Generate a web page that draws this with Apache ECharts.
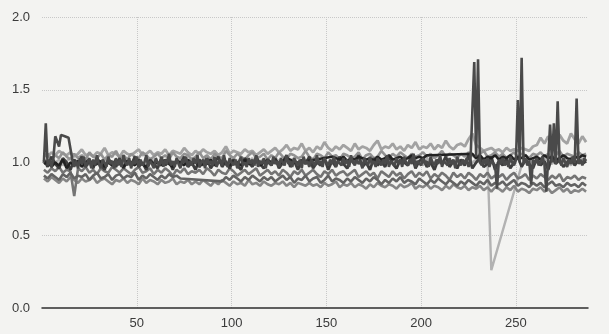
<!DOCTYPE html>
<html>
<head>
<meta charset="utf-8">
<title>chart</title>
<script src="https://cdn.jsdelivr.net/npm/echarts/dist/echarts.min.js"></script>
<style>
  html, body {margin:0; padding:0; background:#f3f3f1;}
  #main {width:609px; height:334px;}
</style>
</head>
<body>
<div id="main"></div>
<script type="text/javascript">
// x ticks / y ticks
var xTicks = [50, 100, 150, 200, 250];
var yTicks = [0.0, 0.5, 1.0, 1.5, 2.0];

// series S: one value per x (x = 1..287), dark, carries the spikes
var sSpike = [
  1.00,1.27,0.98,1.02,0.97,1.03,1.18,1.19,1.11,1.19,
  1.18,1.18,1.18,1.17,1.17,1.02,0.97,1.01,0.96,1.03,
  0.99,1.04,0.97,1.00,1.03,0.96,1.02,0.98,1.05,0.99,
  0.96,1.02,1.00,0.97,1.04,0.99,1.01,0.96,1.03,0.98,
  1.02,0.97,1.05,1.00,0.98,1.03,0.96,1.01,0.99,1.04,
  0.97,1.02,0.98,1.00,1.05,0.97,1.01,0.99,0.96,1.03,
  1.00,0.98,1.04,0.97,1.02,0.99,1.06,0.98,1.01,0.97,
  1.03,0.99,0.96,1.02,1.00,1.04,0.97,1.01,0.98,1.03,
  0.99,1.05,0.97,1.00,1.02,0.96,1.03,0.99,1.01,0.98,
  1.04,0.97,1.00,1.02,0.98,1.05,0.99,0.97,1.03,1.00,
  0.98,1.02,0.96,1.01,1.04,0.98,1.00,0.97,1.03,0.99,
  1.02,0.98,1.05,0.97,1.01,0.99,1.03,0.96,1.02,1.00,
  0.98,1.04,0.99,1.01,0.97,1.03,1.00,0.98,1.05,0.99,
  1.01,0.97,1.03,1.00,0.98,1.02,0.96,1.04,0.99,1.01,
  0.97,1.02,1.00,0.98,1.05,0.99,1.01,0.97,1.03,1.00,
  0.98,1.02,0.99,1.04,0.97,1.01,1.00,0.98,1.03,0.99,
  1.02,0.97,1.05,1.00,0.98,1.02,0.99,1.01,0.96,1.03,
  1.00,0.98,1.04,0.99,1.01,0.97,1.03,1.00,0.98,1.02,
  0.99,1.05,0.97,1.01,1.00,0.98,1.03,0.99,1.02,0.97,
  1.04,1.00,0.98,1.02,0.99,1.06,0.97,1.01,1.00,0.98,
  1.03,0.99,1.01,0.97,1.04,1.00,0.98,1.02,0.99,1.05,
  0.97,1.01,1.00,0.98,1.03,0.99,1.02,0.96,1.04,1.00,
  0.98,1.02,0.99,1.03,0.97,1.01,1.00,1.69,1.04,1.71,
  1.00,0.98,1.02,0.99,1.03,0.97,1.01,1.00,0.98,0.82,
  1.02,0.99,1.03,0.98,1.01,0.97,1.04,1.00,0.98,1.02,
  1.43,1.01,1.72,0.99,1.03,0.98,1.01,0.85,1.02,0.99,
  1.03,0.98,1.00,1.04,0.99,0.80,1.02,1.26,1.00,1.27,
  0.99,1.42,1.01,0.98,1.03,1.00,0.97,1.02,0.99,1.04,
  1.00,1.44,0.99,1.02,0.98,1.03,1.01
];

// the other series: one value every 2 x (x = 1, 3, ..., 287)
var sTop = [
  1.06,1.04,1.07,1.05,1.08,1.06,1.05,1.07,1.04,1.06,
  1.09,1.05,1.06,1.04,1.07,1.06,1.10,1.05,1.07,1.06,
  1.04,1.08,1.06,1.05,1.07,1.09,1.05,1.06,1.08,1.05,
  1.07,1.06,1.09,1.05,1.08,1.07,1.06,1.10,1.07,1.05,
  1.08,1.06,1.09,1.07,1.06,1.08,1.05,1.07,1.11,1.06,
  1.08,1.07,1.06,1.09,1.07,1.08,1.05,1.07,1.09,1.06,
  1.08,1.10,1.07,1.09,1.12,1.08,1.10,1.09,1.13,1.08,
  1.10,1.07,1.11,1.09,1.14,1.10,1.08,1.11,1.09,1.12,
  1.10,1.08,1.13,1.09,1.11,1.10,1.08,1.12,1.15,1.09,
  1.11,1.10,1.13,1.09,1.11,1.08,1.12,1.10,1.14,1.09,
  1.11,1.10,1.13,1.09,1.12,1.10,1.15,1.11,1.09,1.12,
  1.13,1.11,1.16,1.20,1.12,1.10,1.08,1.09,1.10,1.08,
  1.09,1.07,1.10,1.08,1.09,1.08,1.10,1.09,1.08,1.11,
  1.12,1.17,1.13,1.18,1.14,1.12,1.19,1.15,1.13,1.20,
  1.16,1.13,1.18,1.14
];

var sDip = [
  1.01,0.99,1.03,1.00,1.02,0.98,1.01,1.03,0.99,1.02,
  1.00,1.03,0.98,1.01,1.02,0.99,1.03,1.00,1.01,0.98,
  1.02,1.00,1.03,0.99,1.01,1.02,0.98,1.00,1.03,1.01,
  0.99,1.02,1.00,1.03,0.98,1.01,1.02,1.00,0.99,1.03,
  1.01,0.98,1.02,1.00,1.03,0.99,1.01,1.02,1.00,0.98,
  1.03,1.01,0.99,1.02,1.00,1.03,0.98,1.01,1.02,0.99,
  1.00,1.03,1.01,0.98,1.02,1.00,1.03,0.99,1.01,1.02,
  0.98,1.01,1.03,1.00,1.02,0.99,1.01,1.03,1.00,0.98,
  1.02,1.00,1.03,1.01,0.99,1.02,1.00,1.03,0.98,1.01,
  1.03,0.99,1.01,1.02,1.00,1.03,0.99,1.01,1.02,1.00,
  0.98,1.03,1.01,1.00,1.02,0.99,1.03,1.01,1.00,1.02,
  1.01,0.99,1.03,1.00,1.02,1.01,1.00,1.01,0.26,null,
  null,null,null,null,null,null,0.98,1.01,1.03,0.99,
  1.02,1.00,1.03,1.01,0.99,1.02,1.00,1.03,1.01,0.98,
  1.02,1.00,1.03,1.01
];

var sLight = [
  1.04,1.06,1.02,1.05,1.03,1.07,1.04,1.02,1.06,1.03,
  1.05,1.02,1.07,1.04,1.03,1.06,1.02,1.05,1.04,1.08,
  1.03,1.05,1.02,1.06,1.04,1.03,1.07,1.05,1.02,1.04,
  1.06,1.03,1.05,1.02,1.07,1.04,1.03,1.06,1.05,1.02,
  1.04,1.07,1.03,1.05,1.02,1.06,1.04,1.03,1.08,1.05,
  1.03,1.06,1.04,1.02,1.05,1.07,1.03,1.04,1.06,1.02,
  1.05,1.03,1.07,1.04,1.02,1.06,1.05,1.03,1.04,1.08,
  1.04,1.02,1.06,1.05,1.03,1.07,1.04,1.05,1.02,1.06,
  1.05,1.03,1.04,1.07,1.02,1.05,1.06,1.03,1.04,1.08,
  1.05,1.03,1.06,1.04,1.07,1.05,1.03,1.06,1.04,1.05,
  1.07,1.04,1.06,1.03,1.05,1.08,1.04,1.06,1.05,1.03,
  1.06,1.04,1.07,1.05,1.03,1.06,1.08,1.04,1.05,1.07,
  1.04,1.06,1.03,1.05,1.07,1.04,1.06,1.05,1.03,1.06,
  1.05,1.07,1.04,1.06,1.03,1.05,1.08,1.04,1.06,1.05,
  1.04,1.07,1.05,1.06
];

var sDark = [
  1.02,0.97,1.04,0.99,0.96,1.03,1.00,0.95,1.02,0.98,
  1.04,0.97,1.01,0.96,1.03,0.99,0.95,1.02,1.00,0.97,
  1.03,0.96,1.01,0.98,1.04,0.97,1.00,0.95,1.02,0.99,
  0.96,1.03,0.98,1.01,0.95,1.02,0.99,1.04,0.97,1.00,
  0.95,1.02,0.98,1.03,0.96,1.00,1.04,0.97,1.01,0.96,
  1.02,0.98,0.95,1.03,1.00,0.97,1.04,0.99,0.96,1.01,
  0.98,1.03,0.96,1.00,1.05,0.97,1.01,0.95,1.02,0.99,
  1.04,0.96,1.00,0.98,1.03,0.95,1.01,0.97,1.04,0.99,
  0.96,1.02,0.99,1.05,0.97,1.00,0.95,1.03,0.98,1.01,
  0.97,1.04,0.99,0.96,1.02,1.00,0.98,1.05,0.96,1.01,
  1.03,0.97,1.00,0.95,1.02,0.99,1.04,0.97,1.01,0.96,
  1.02,0.98,1.05,0.96,1.00,1.03,0.97,0.99,1.04,0.95,
  1.01,0.98,1.03,0.96,1.00,1.04,0.97,1.02,0.99,0.96,
  1.03,0.98,1.01,0.95,1.04,0.99,1.02,0.97,1.00,1.03,
  0.98,1.02,0.99,1.01
];

var sBlack = [
  0.99,1.01,0.97,1.00,0.98,1.02,0.96,1.00,0.99,1.01,
  0.97,1.00,1.02,0.98,0.99,1.01,0.97,1.00,0.98,1.02,
  0.99,0.97,1.01,1.00,0.98,1.02,0.99,0.97,1.01,0.99,
  1.00,0.98,1.02,0.99,0.97,1.01,1.00,0.98,1.02,0.99,
  1.01,0.97,1.00,0.99,1.02,0.98,1.00,1.01,0.99,0.98,
  1.01,1.00,0.98,1.02,0.99,1.00,1.01,0.98,1.00,1.02,
  1.00,1.02,0.99,1.01,1.03,1.02,1.00,1.00,null,null,
  null,null,null,null,null,null,1.04,1.03,1.02,1.04,
  1.01,1.03,1.02,1.04,1.03,1.02,1.03,1.01,1.04,1.02,
  1.03,1.05,1.02,1.03,1.04,1.02,1.03,1.05,1.03,1.04,
  1.03,1.05,1.05,null,null,null,null,null,null,null,
  null,null,null,1.06,1.03,1.05,1.02,1.04,1.03,1.05,
  1.02,1.04,1.03,1.05,1.02,1.04,1.03,1.05,1.02,1.03,
  1.04,1.02,1.05,1.03,1.04,1.02,1.03,1.05,1.03,1.02,
  1.04,1.03,1.05,1.04
];

var sMid = [
  0.95,0.93,0.96,0.94,0.97,0.93,0.95,0.94,0.77,0.96,
  0.94,0.97,0.93,0.95,0.92,0.96,0.94,0.93,0.97,0.95,
  0.93,0.96,0.94,0.92,0.95,0.97,0.93,0.94,0.96,0.92,
  0.95,0.93,0.96,0.94,0.91,0.95,0.93,0.96,0.92,0.94,
  0.93,0.95,0.92,0.96,0.94,0.91,0.95,0.93,0.92,0.96,
  0.94,0.91,0.93,0.95,0.92,0.94,0.96,0.91,0.93,0.95,
  0.92,0.94,0.91,0.95,0.93,0.90,0.94,0.92,0.95,0.91,
  0.93,0.95,0.92,0.90,0.94,0.92,0.95,0.91,0.93,0.94,
  0.91,0.93,0.95,0.90,0.92,0.94,0.91,0.93,0.89,0.94,
  0.92,0.90,0.94,0.91,0.93,0.89,0.92,0.94,0.90,0.93,
  0.91,0.94,0.89,0.92,0.90,0.93,0.91,0.88,0.93,0.90,
  0.92,0.89,0.93,0.91,0.88,0.92,0.90,0.93,0.89,0.91,
  0.90,0.92,0.88,0.91,0.93,0.89,0.90,0.92,0.88,0.91,
  0.89,0.92,0.90,0.88,0.91,0.89,0.92,0.87,0.90,0.89,
  0.91,0.88,0.90,0.89
];

var sLow = [
  0.91,0.89,0.92,0.90,0.88,0.92,0.90,0.93,0.89,0.91,
  0.90,0.92,0.88,0.91,0.93,0.89,0.90,0.92,0.88,0.91,
  0.92,0.89,0.91,0.90,0.93,0.88,0.91,0.89,0.92,0.90,
  0.88,0.91,0.89,0.92,0.90,0.91,0.89,null,null,null,
  null,null,null,null,null,null,null,0.87,0.90,0.88,
  0.91,0.89,0.87,0.90,0.88,0.91,0.89,0.87,0.90,0.88,
  0.90,0.87,0.89,0.91,0.88,0.90,0.86,0.89,0.88,0.91,
  0.87,0.89,0.90,0.86,0.88,0.91,0.87,0.89,0.88,0.86,
  0.89,0.87,0.90,0.88,0.86,0.89,0.87,0.90,0.88,0.85,
  0.88,0.86,0.89,0.87,0.90,0.86,0.88,0.87,0.85,0.89,
  0.87,0.85,0.88,0.86,0.89,0.87,0.85,0.88,0.86,0.84,
  0.87,0.85,0.88,0.86,0.84,0.87,0.85,0.88,0.84,0.86,
  0.85,0.87,0.84,0.86,0.88,0.84,0.86,0.85,0.83,0.86,
  0.84,0.86,0.83,0.85,0.87,0.84,0.85,0.83,0.86,0.84,
  0.85,0.83,0.86,0.84
];

var sBottom = [
  0.89,0.87,0.90,0.88,0.86,0.89,0.87,0.90,0.88,0.86,
  0.89,0.87,0.88,0.90,0.86,0.88,0.89,0.87,0.85,0.88,
  0.87,0.89,0.86,0.88,0.87,0.85,0.89,0.86,0.88,0.87,
  0.85,0.88,0.86,0.87,0.89,0.85,0.87,0.86,0.88,0.85,
  0.87,0.85,0.88,0.86,0.84,0.87,0.85,0.88,0.86,0.84,
  0.87,0.85,0.86,0.84,0.88,0.85,0.86,0.84,0.87,0.85,
  0.84,0.86,0.85,0.87,0.84,0.86,0.83,0.86,0.85,0.84,
  0.86,0.84,0.85,0.83,0.86,0.84,0.85,0.87,0.83,0.85,
  0.84,0.86,0.83,0.85,0.84,0.82,0.85,0.83,0.86,0.84,
  0.83,0.85,0.84,0.82,0.85,0.83,0.84,0.86,0.82,0.84,
  0.83,0.85,0.82,0.84,0.83,0.81,0.84,0.82,0.85,0.83,
  0.82,0.84,0.81,0.83,0.82,0.84,0.81,0.83,0.80,0.83,
  0.82,0.80,0.83,0.81,0.84,0.80,0.82,0.81,0.79,0.82,
  0.81,0.83,0.80,0.82,0.79,0.81,0.83,0.80,0.82,0.79,
  0.81,0.80,0.82,0.80
];

function toPairs(vals, step) {
  return vals.map(function (v, i) { return [1 + i * step, v]; });
}

function line(data, step, color, width) {
  return {
    type: 'line',
    data: toPairs(data, step),
    showSymbol: false,
    connectNulls: true,
    lineStyle: {color: color, width: width},
    itemStyle: {color: color},
    emphasis: {disabled: true}
  };
}

var chart = echarts.init(document.getElementById('main'));
chart.setOption({
  backgroundColor: '#f3f3f1',
  animation: false,
  grid: {left: 42, right: 21, top: 17, bottom: 26},
  xAxis: {
    type: 'value',
    min: 0,
    max: 288,
    interval: 50,
    axisLine: {show: true, lineStyle: {color: '#2e2e2e', width: 1.5}},
    axisTick: {show: false},
    axisLabel: {
      color: '#3a3a3a', fontSize: 13, fontFamily: 'Liberation Sans', margin: 9,
      showMinLabel: false, showMaxLabel: false,
      formatter: function (v) { return xTicks.indexOf(v) >= 0 ? String(v) : ''; }
    },
    splitLine: {show: true, showMinLine: false, showMaxLine: false,
      lineStyle: {color: '#c8c8c8', type: 'dotted', width: 1}}
  },
  yAxis: {
    type: 'value',
    min: 0,
    max: 2,
    interval: 0.5,
    axisLine: {show: false},
    axisTick: {show: false},
    axisLabel: {
      color: '#3a3a3a', fontSize: 13, fontFamily: 'Liberation Sans', margin: 12,
      formatter: function (v) { return yTicks.indexOf(v) >= 0 ? v.toFixed(1) : ''; }
    },
    splitLine: {show: true, showMinLine: false,
      lineStyle: {color: '#c8c8c8', type: 'dotted', width: 1}}
  },
  series: [
    line(sDip, 2, '#b2b2b2', 2.4),
    line(sTop, 2, '#a2a2a2', 2.8),
    line(sLight, 2, '#929292', 2.6),
    line(sBottom, 2, '#858585', 2.6),
    line(sMid, 2, '#747474', 2.6),
    line(sLow, 2, '#636363', 2.6),
    line(sDark, 2, '#3e3e3e', 2.8),
    line(sBlack, 2, '#222222', 2.6),
    line(sSpike, 1, '#4a4a4a', 2.6)
  ]
});
</script>
</body>
</html>
